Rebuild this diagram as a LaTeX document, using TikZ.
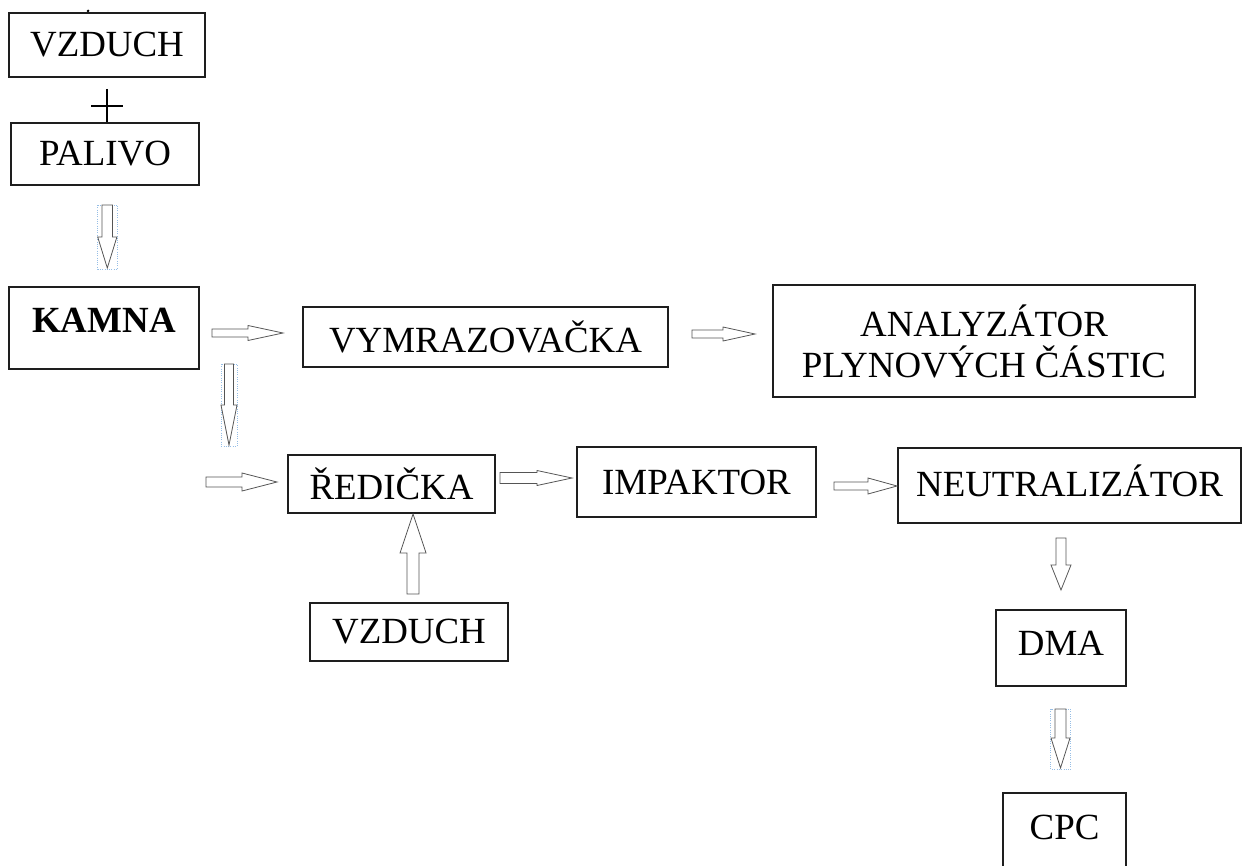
\documentclass[tikz,border=0pt]{standalone}
\usepackage{fontspec}
\setmainfont{Liberation Serif}
\usetikzlibrary{calc}
\tikzset{
  stage/.style={draw=boxcolor,line width=0.8pt,inner sep=0pt,font=\fontsize{21}{23.3}\selectfont},
  flowarrow/.style={draw=arrowcolor,line width=0.45pt,fill=white},
  selbox/.style={draw=selcolor,densely dotted,line width=0.3pt}
}
\newcommand{\hollowarrow}[5]{%
  \pgfmathsetmacro{\sw}{#3*0.02}%
  \pgfmathsetmacro{\hw}{#4*0.02}%
  \pgfmathsetmacro{\hl}{#5*0.02}%
  \coordinate (hb) at ($(#2)!\hl cm!(#1)$);
  \draw[flowarrow] ($(#1)!\sw cm!90:(#2)$) -- ($(hb)!\sw cm!-90:(#1)$) -- ($(hb)!\hw cm!-90:(#1)$) -- (#2)
    -- ($(hb)!\hw cm!90:(#1)$) -- ($(hb)!\sw cm!90:(#1)$) -- ($(#1)!\sw cm!-90:(#2)$) -- cycle;
}
\begin{document}
\begin{tikzpicture}[x=0.02cm,y=-0.02cm]
\definecolor{boxcolor}{RGB}{30,30,30}
\definecolor{arrowcolor}{RGB}{85,85,85}
\definecolor{selcolor}{RGB}{150,190,230}
\useasboundingbox (0,0) rectangle (1243,865);
\node[stage,minimum width=3.92cm,minimum height=1.28cm] (vzduch1) at (107,45) {VZDUCH};
\node[stage,minimum width=3.76cm,minimum height=1.24cm] (palivo) at (105,154) {PALIVO};
\node[stage,minimum width=3.80cm,minimum height=1.64cm,text depth=0.32cm] (kamna) at (104,328) {\textbf{KAMNA}};
\node[stage,minimum width=7.30cm,minimum height=1.20cm] (vymraz) at (485.5,337) {VYMRAZOVAČKA};
\node[stage,minimum width=8.44cm,minimum height=2.24cm,align=center] (analyzator) at (984,341) {ANALYZÁTOR\\PLYNOVÝCH ČÁSTIC};
\node[stage,minimum width=4.14cm,minimum height=1.16cm] (redicka) at (391.5,484) {ŘEDIČKA};
\node[stage,minimum width=3.96cm,minimum height=1.16cm] (vzduch2) at (409,632) {VZDUCH};
\node[stage,minimum width=4.78cm,minimum height=1.40cm] (impaktor) at (696.5,482) {IMPAKTOR};
\node[stage,minimum width=6.86cm,minimum height=1.50cm,text depth=0.2cm] (neutral) at (1069.5,485.5) {NEUTRALIZÁTOR};
\node[stage,minimum width=2.60cm,minimum height=1.52cm,text depth=0.2cm] (dma) at (1061,648) {DMA};
\node[stage,minimum width=2.46cm,minimum height=1.74cm,text depth=0.38cm] (cpc) at (1064.5,836.5) {CPC};
\fill (88,11) circle [radius=0.03cm];
\coordinate (plusl) at (91,106);
\coordinate (plusr) at (123,106);
\coordinate (plust) at (107,89);
\draw[line width=0.6pt] (plusl) -- (plusr);
\draw[line width=0.6pt] (plust) -- (plust |- palivo.north);
\coordinate (a1t) at (107.3,205);
\coordinate (a1h) at (107.3,268);
\coordinate (a2t) at (212,333);
\coordinate (a2h) at (283,333);
\coordinate (a3t) at (229,364);
\coordinate (a3h) at (229,445);
\coordinate (a4t) at (206,482);
\coordinate (a4h) at (277,482);
\coordinate (a5t) at (500,478);
\coordinate (a5h) at (572,478);
\coordinate (a6t) at (692,334);
\coordinate (a6h) at (755,334);
\coordinate (a7t) at (413,594);
\coordinate (a7h) at (413,514);
\coordinate (a8t) at (834,486);
\coordinate (a8h) at (897,486);
\coordinate (a9t) at (1061,538);
\coordinate (a9h) at (1061,590);
\coordinate (a10t) at (1060.5,709);
\coordinate (a10h) at (1060.5,768);
\draw[selbox] (97.7,205) rectangle (117.3,269);
\draw[selbox] (221,364) rectangle (237,446);
\draw[selbox] (1050.5,709) rectangle (1070.5,769);
\hollowarrow{a1t}{a1h}{5.2}{9.6}{31}
\hollowarrow{a2t}{a2h}{4}{7.5}{35}
\hollowarrow{a3t}{a3h}{4.5}{8}{40}
\hollowarrow{a4t}{a4h}{5}{9}{35}
\hollowarrow{a5t}{a5h}{5.5}{7.5}{35}
\hollowarrow{a6t}{a6h}{4}{7}{32}
\hollowarrow{a7t}{a7h}{6}{13}{39}
\hollowarrow{a8t}{a8h}{4}{8}{29}
\hollowarrow{a9t}{a9h}{5}{10}{25}
\hollowarrow{a10t}{a10h}{5.5}{9.5}{30}
\end{tikzpicture}
\end{document}
